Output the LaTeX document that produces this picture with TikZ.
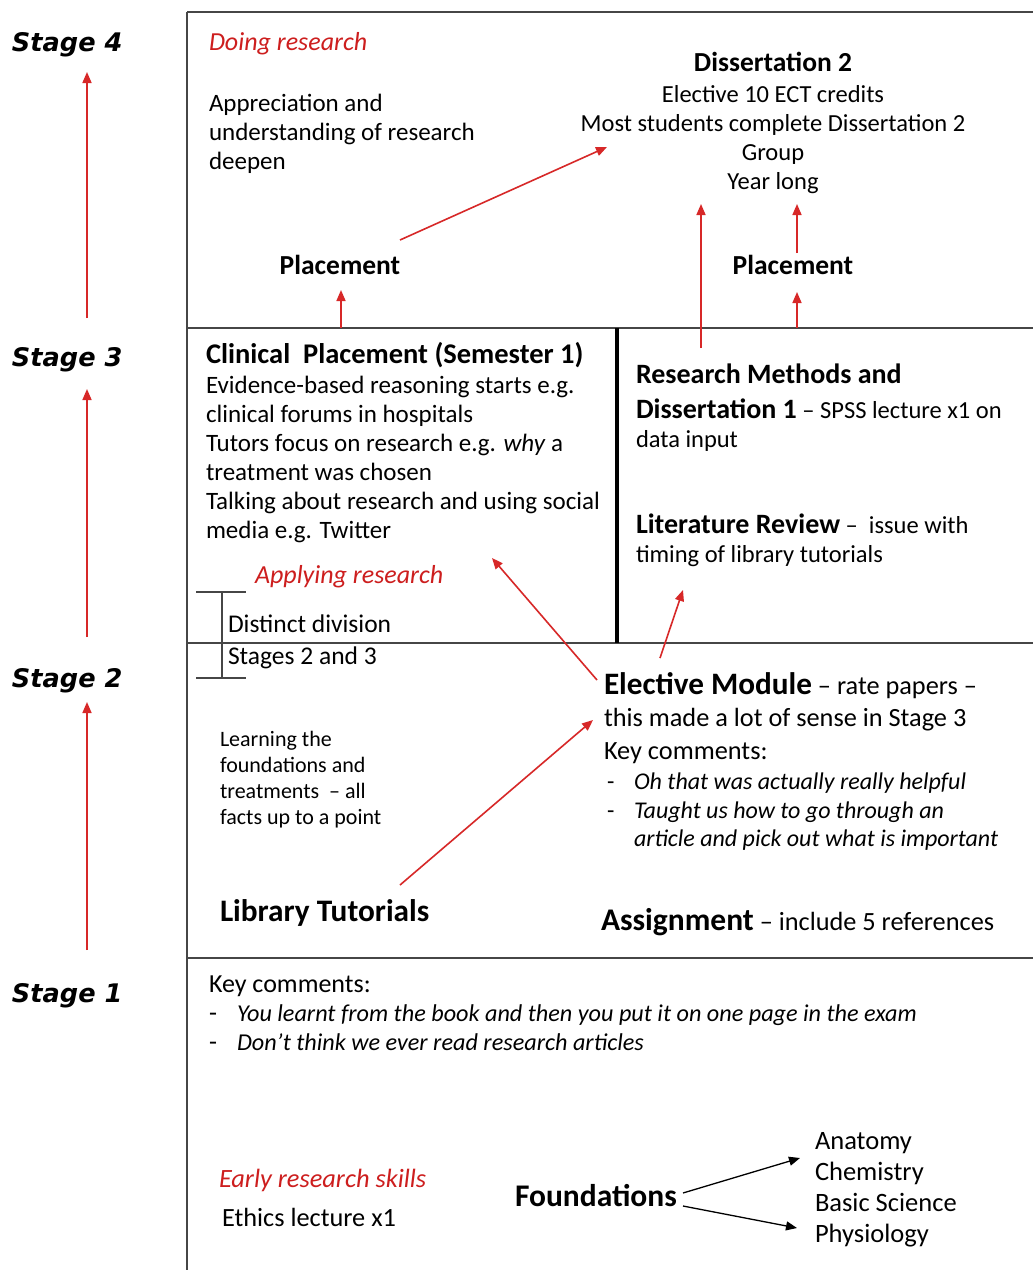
\documentclass[tikz,border=0pt]{standalone}
\usepackage{fontspec}
\setmainfont{Carlito}
\newfontfamily\stagefont{DejaVu Sans}
\usetikzlibrary{arrows.meta}
\definecolor{redline}{RGB}{215,40,40}
\definecolor{redtext}{RGB}{205,30,30}
\definecolor{framec}{RGB}{70,70,70}
\begin{document}
\begin{tikzpicture}[x=1pt,y=-1pt,
  every node/.style={inner sep=0pt, outer sep=0pt},
  blk/.style={anchor=north west, align=left, font=\fontsize{24.5}{29}\selectfont},
  one/.style={anchor=base west, font=\fontsize{24.5}{29}\selectfont},
  redit/.style={anchor=base west, text=redtext, font=\fontsize{26}{29}\selectfont\itshape},
  head/.style={font=\fontsize{27.5}{29}\selectfont\bfseries},
  stagelbl/.style={anchor=base west, font=\stagefont\fontsize{25.6}{29}\selectfont\bfseries\itshape},
  frameline/.style={draw=framec, line width=2pt},
  redarrow/.style={draw=redline, line width=1.6pt, -{Triangle[length=11pt,width=9pt]}},
  blackarrow/.style={draw=black, line width=1.3pt, -{Triangle[length=11pt,width=9pt]}}
]
\fill[white] (0,0) rectangle (1033,1270);
\useasboundingbox (0,0) rectangle (1033,1270);

% frame lines
\draw[frameline] (187,12) -- (1033,12);
\draw[frameline] (187,12) -- (187,1270);
\draw[frameline] (187,328) -- (1033,328);
\draw[frameline] (187,643) -- (1033,643);
\draw[frameline] (187,958) -- (1033,958);
\draw[black, line width=3.5pt] (617,328) -- (617,643);
% bracket
\draw[framec, line width=1.3pt] (196,592) -- (246,592) (222,592) -- (222,678) (196,678) -- (246,678);

% stage labels
\node[stagelbl] (s4) at (12,51) {Stage 4};
\node[stagelbl] (s3) at (12,366) {Stage 3};
\node[stagelbl] (s2) at (12,687) {Stage 2};
\node[stagelbl] (s1) at (12,1002) {Stage 1};
\coordinate (s4t) at (87,72);  \coordinate (s4b) at (87,318);
\coordinate (s3t) at (87,389); \coordinate (s3b) at (87,637);
\coordinate (s2t) at (87,702); \coordinate (s2b) at (87,950);
\draw[redarrow] (s4b) -- (s4t);
\draw[redarrow] (s3b) -- (s3t);
\draw[redarrow] (s2b) -- (s2t);

% ---------- Stage 4 ----------
\node[redit] (doing) at (209,50) {Doing research};
\node[blk, font=\fontsize{25}{29}\selectfont] (appr) at (209,90.7) {\strut Appreciation and\\understanding of research\\deepen};
\node[blk, anchor=north, align=center] (diss2) at (773,50.7)
  {\strut{\bfseries\fontsize{27.5}{29}\selectfont Dissertation 2}\\[2pt]
   Elective 10 ECT credits\\ Most students complete Dissertation 2\\ Group\\ Year long};
\node[head, anchor=base] (plL) at (340,274) {Placement};
\node[head, anchor=base] (plR) at (793,274) {Placement};

% ---------- Stage 3 ----------
\node[blk, font=\fontsize{25}{29}\selectfont] (clin) at (206,342.7)
  {\strut{\bfseries\fontsize{28.5}{29}\selectfont Clinical\ \ Placement (Semester 1)}\\[1pt]
   Evidence-based reasoning starts e.g.\\ clinical forums in hospitals\\
   Tutors focus on research e.g. \textit{why} a\\ treatment was chosen\\
   Talking about research and using social\\ media e.g. Twitter};
\node[redit] (apply) at (255,583) {Applying research};
\node[blk, font=\fontsize{25.5}{29}\selectfont] (distinct) at (228,611.7) {\strut Distinct division\\[3pt] Stages 2 and 3};
\node[blk] (resm) at (636,362.7)
  {\strut{\bfseries\fontsize{28}{29}\selectfont Research Methods and}\\[6pt]
   {\bfseries\fontsize{28}{29}\selectfont Dissertation 1} – SPSS lecture x1 on\\ data input};
\node[blk] (litrev) at (636,512.7)
  {\strut{\bfseries\fontsize{28}{29}\selectfont Literature Review} –\ \ issue with\\ timing of library tutorials};

% ---------- Stage 2 ----------
\node[blk, font=\fontsize{26.3}{32.5}\selectfont] (elect) at (604,671.3)
  {\strut{\bfseries\fontsize{31.2}{32}\selectfont Elective Module} – rate papers –\\
   this made a lot of sense in Stage 3\\ Key comments:};
\node[blk, font=\fontsize{24}{28.5}\selectfont] (electc) at (607,770)
  {\strut\makebox[27pt][l]{-}\textit{Oh that was actually really helpful}\\
   \makebox[27pt][l]{-}\textit{Taught us how to go through an}\\
   \makebox[27pt][l]{}\textit{article and pick out what is important}};
\node[blk, font=\fontsize{22}{26}\selectfont] (learn) at (220,727.8)
  {\strut Learning the\\ foundations and\\ treatments\ \ – all\\ facts up to a point};
\node[one, font=\fontsize{31.3}{32}\selectfont\bfseries] (libt) at (220,921) {Library Tutorials};
\node[one, font=\fontsize{26.3}{29}\selectfont] (assign) at (601,930)
  {{\bfseries\fontsize{31.5}{32}\selectfont Assignment} – include 5 references};

% ---------- Stage 1 ----------
\node[blk, font=\fontsize{26}{29}\selectfont] (keyc) at (209,971.7)
  {\strut Key comments:\\
   \makebox[28pt][l]{-}{\fontsize{24.2}{29}\selectfont\itshape You learnt from the book and then you put it on one page in the exam}\\
   \makebox[28pt][l]{-}{\fontsize{24.2}{29}\selectfont\itshape Don’t think we ever read research articles}};
\node[redit, font=\fontsize{26.4}{29}\selectfont\itshape] (early) at (219,1187) {Early research skills};
\node[one, font=\fontsize{26.3}{29}\selectfont] (ethics) at (222,1226) {Ethics lecture x1};
\node[one, font=\fontsize{31.5}{32}\selectfont\bfseries] (found) at (515,1206) {Foundations};
\node[blk, font=\fontsize{26.5}{31}\selectfont] (subj) at (815,1127.3)
  {\strut Anatomy\\ Chemistry\\ Basic Science\\ Physiology};

% ---------- connectors ----------
\coordinate (a1s) at (341,328);  \coordinate (a1e) at (341,290);
\coordinate (a2s) at (400,240);  \coordinate (a2e) at (607,147);
\coordinate (a3s) at (701,348);  \coordinate (a3e) at (701,204);
\coordinate (a4s) at (797,328);  \coordinate (a4e) at (797,292);
\coordinate (a5s) at (797,253);  \coordinate (a5e) at (797,204);
\coordinate (a6s) at (597,680);  \coordinate (a6e) at (492,558);
\coordinate (a7s) at (660,658);  \coordinate (a7e) at (683,590);
\coordinate (a8s) at (400,885);  \coordinate (a8e) at (593,720);
\draw[redarrow] (a1s) -- (a1e);
\draw[redarrow] (a2s) -- (a2e);
\draw[redarrow] (a3s) -- (a3e);
\draw[redarrow] (a4s) -- (a4e);
\draw[redarrow] (a5s) -- (a5e);
\draw[redarrow] (a6s) -- (a6e);
\draw[redarrow] (a7s) -- (a7e);
\draw[redarrow] (a8s) -- (a8e);
\coordinate (f1s) at (683,1193); \coordinate (f1e) at (800,1158);
\coordinate (f2s) at (683,1206); \coordinate (f2e) at (797,1228);
\draw[blackarrow] (f1s) -- (f1e);
\draw[blackarrow] (f2s) -- (f2e);
\end{tikzpicture}
\end{document}
